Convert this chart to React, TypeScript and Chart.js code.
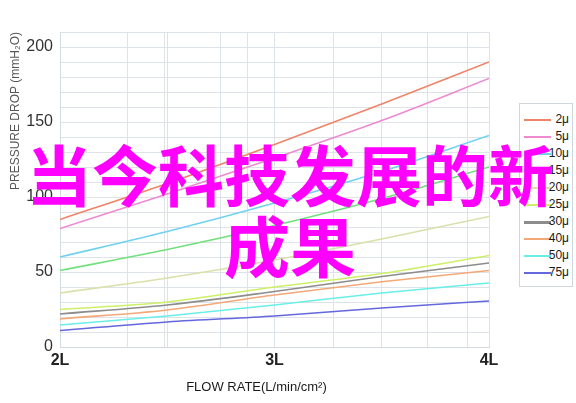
import React, { useEffect, useRef } from 'react';
import { Chart, registerables } from 'chart.js';

Chart.register(...registerables);

// ---- data ----
const flowRates = [2, 2.5, 3, 3.5, 4];
const seriesLabels = ['2μ', '5μ', '10μ', '15μ', '20μ', '25μ', '30μ', '40μ', '50μ', '75μ'];
const p2 = [85, 109, 135, 162, 190];
const p5 = [79, 102, 126, 151, 179];
const p10 = [60, 77, 96, 117, 141];
const p15 = [51, 65, 81, 99, 120];
const p20 = [36, 46, 58, 72, 87];
const p25 = [25, 30, 40, 49, 61];
const p30 = [22, 28, 37, 47, 56];
const p40 = [18.7, 24.7, 34.7, 43.5, 51];
const p50 = [14.7, 20.7, 28, 36, 42.7];
const p75 = [11, 16.7, 20.7, 26, 30.7];
const seriesValues = [p2, p5, p10, p15, p20, p25, p30, p40, p50, p75];
const seriesColors = [
  '#ef8468', '#ee8ad0', '#70d2ef', '#72e07c', '#d9e0aa',
  '#cdf068', '#8c8c8c', '#f4a878', '#6aeee8', '#6468dc',
];
const xGridValues = [2, 2.317, 2.485, 2.503, 2.746, 2.876, 3, 3.273, 3.501, 3.711, 3.902, 4];
const xTickLabels: Record<string, string> = { '2': '2L', '3': '3L', '4': '4L' };
const yMax = 210;
const yStep = 10;
const yLabelEvery = 50;
const yTitle = 'PRESSURE DROP (mmH₂O)';
const xTitle = 'FLOW RATE(L/min/cm²)';
const overlayLine1 = '当今科技发展的新';
const overlayLine2 = '成果';

export default function App() {
  const canvasRef = useRef<HTMLCanvasElement | null>(null);

  useEffect(() => {
    if (!canvasRef.current) return;
    const chart = new Chart(canvasRef.current, {
      type: 'line',
      data: {
        datasets: seriesLabels.map((label, i) => ({
          label,
          data: flowRates.map((x, j) => ({ x, y: seriesValues[i][j] })),
          borderColor: seriesColors[i],
          backgroundColor: seriesColors[i],
          borderWidth: 1.6,
          pointRadius: 0,
          cubicInterpolationMode: 'monotone' as const,
          fill: false,
        })),
      },
      options: {
        responsive: false,
        animation: false,
        layout: { padding: { left: 0, right: 87, top: 32, bottom: 0 } },
        plugins: {
          legend: { display: false },
          tooltip: { enabled: false },
        },
        scales: {
          x: {
            type: 'linear',
            min: 2,
            max: 4,
            afterBuildTicks: (scale: any) => {
              scale.ticks = xGridValues.map((v) => ({ value: v }));
            },
            afterFit: (scale: any) => {
              scale.height = 56;
            },
            grid: { color: '#dde3e8', drawTicks: false, lineWidth: 1 },
            border: { display: true, color: '#d3dae0' },
            ticks: {
              autoSkip: false,
              maxRotation: 0,
              padding: 4,
              color: '#222',
              font: { family: '"Liberation Sans", Arial, sans-serif', size: 16, weight: 'bold' },
              callback: (v: any) => xTickLabels[String(v)] ?? '',
            },
            title: {
              display: true,
              text: xTitle + '          ',
              color: '#1a1a1a',
              padding: { top: 0, bottom: 8 },
              font: { family: '"Liberation Sans Narrow", "Liberation Sans", Arial, sans-serif', size: 13 },
            },
          },
          y: {
            type: 'linear',
            min: 0,
            max: yMax,
            afterFit: (scale: any) => {
              scale.width = 60;
            },
            grid: { color: '#dde3e8', drawTicks: false, lineWidth: 1 },
            border: { display: true, color: '#d3dae0' },
            ticks: {
              stepSize: yStep,
              autoSkip: false,
              padding: 7,
              color: '#333',
              font: { family: '"Liberation Sans", Arial, sans-serif', size: 16 },
              callback: (v: any) => (Number(v) % yLabelEvery === 0 ? String(v) : ''),
            },
            title: {
              display: true,
              text: yTitle,
              align: 'end',
              color: '#555',
              padding: { top: 8, bottom: 0 },
              font: { family: '"Liberation Sans", Arial, sans-serif', size: 12 },
            },
          },
        },
      },
    });
    return () => chart.destroy();
  }, []);

  return (
    <div style={{ position: 'fixed', left: 0, top: 0, width: 576, height: 403, background: '#fff', overflow: 'hidden' }}>
      <canvas ref={canvasRef} width={576} height={403} style={{ width: 576, height: 403, display: 'block' }} />
      <div
        style={{
          position: 'absolute', left: 519, top: 103, width: 54, height: 184,
          border: '1px solid #cfd6dc', background: '#fff', boxSizing: 'border-box',
          paddingTop: 7,
        }}
      >
        {seriesLabels.map((label, i) => (
          <div key={label} style={{ position: 'relative', height: 17 }}>
            <div style={{ position: 'absolute', left: 4, top: 8, width: 27, height: i === 6 ? 2.5 : 1.6, background: seriesColors[i] }} />
            <div style={{ position: 'absolute', right: 3, top: 1, fontFamily: '"Liberation Sans", Arial, sans-serif', fontSize: 12, lineHeight: '15px', color: '#1a1a1a' }}>{label}</div>
          </div>
        ))}
      </div>
      <div
        style={{
          position: 'absolute', left: -2, top: 137, width: 584, textAlign: 'center',
          fontFamily: '"Noto Sans CJK SC", sans-serif', fontWeight: 700, fontSize: 66,
          lineHeight: '71px', color: '#ff00ff', whiteSpace: 'nowrap', pointerEvents: 'none',
        }}
      >
        {overlayLine1}
        <br />
        {overlayLine2}
      </div>
    </div>
  );
}
